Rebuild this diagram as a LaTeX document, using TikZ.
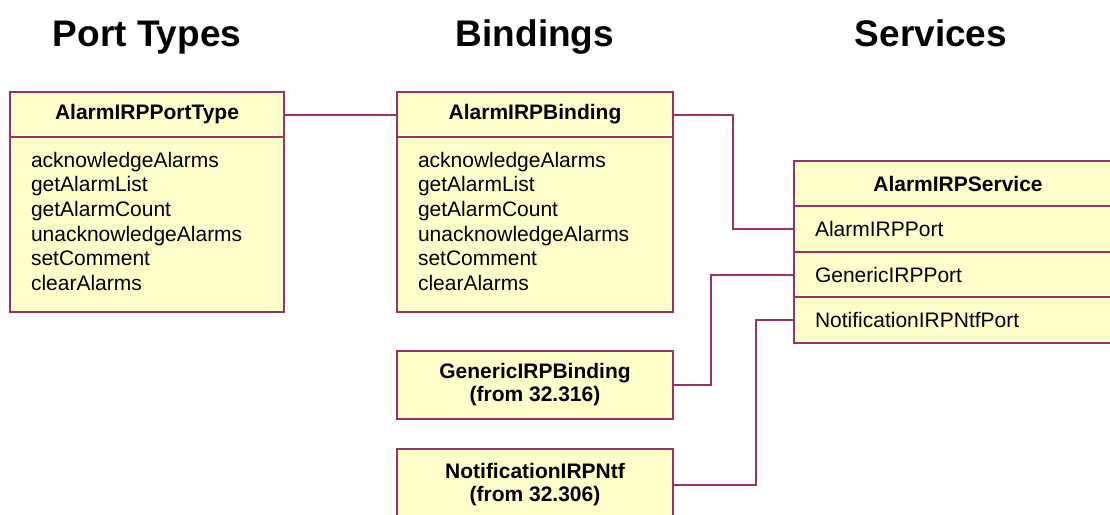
\documentclass[tikz,border=0pt]{standalone}
\usepackage{fontspec}
\setmainfont{Liberation Sans}
\usepackage{tikz}
\usetikzlibrary{positioning}
\definecolor{umlborder}{HTML}{993366}
\definecolor{umlfill}{HTML}{FFFFCC}
\tikzstyle{coltitle}=[anchor=base, font=\bfseries\fontsize{37}{40}\selectfont]
\tikzstyle{umlbox}=[rectangle, draw=umlborder, fill=umlfill, line width=2pt, outer sep=0pt, anchor=north west]
\tikzstyle{classhead}=[umlbox, minimum height=45pt, text centered, font=\bfseries\fontsize{21}{23}\selectfont]
\tikzstyle{classbody}=[umlbox, inner xsep=21pt, inner ysep=0pt, text height=30pt, text depth=145pt, align=left, font=\fontsize{21}{24.7}\selectfont]
\tikzstyle{portrow}=[umlbox, minimum height=45.7pt, inner xsep=21pt, align=left, font=\fontsize{21}{23}\selectfont]
\tikzstyle{refbox}=[umlbox, align=center, font=\bfseries\fontsize{21}{23}\selectfont]
\tikzstyle{link}=[draw=umlborder, line width=2pt]

\begin{document}
\begin{tikzpicture}[x=1pt, y=-1pt]
	\useasboundingbox (0,0) rectangle (1110,514);

	\node[coltitle] (ttypes) at (147,46) {Port Types};
	\node[coltitle] (tbind) at (535,46) {Bindings};
	\node[coltitle] (tserv) at (931,46) {Services};

	% port type
	\node[classhead, minimum width=274pt] (porttype) at (10,92) {AlarmIRPPortType};
	\node[classbody, text width=232pt] (porttypeops) at (porttype.south west)
		{acknowledgeAlarms\\getAlarmList\\getAlarmCount\\unacknowledgeAlarms\\setComment\\clearAlarms};

	% bindings
	\node[classhead, minimum width=276pt] (binding) at (397,92) {AlarmIRPBinding};
	\node[classbody, text width=234pt] (bindingops) at (binding.south west)
		{acknowledgeAlarms\\getAlarmList\\getAlarmCount\\unacknowledgeAlarms\\setComment\\clearAlarms};
	\node[refbox, minimum width=276pt, minimum height=68pt] (genbind) at (397,351)
		{GenericIRPBinding\\(from 32.316)};
	\node[refbox, minimum width=276pt, minimum height=72pt] (ntfbind) at (397,449)
		{NotificationIRPNtf\\(from 32.306)};

	% service
	\node[classhead, minimum width=328pt] (service) at (794,161) {AlarmIRPService};
	\node[portrow, text width=286pt] (alarmport) at (service.south west) {AlarmIRPPort};
	\node[portrow, text width=286pt] (genport) at (alarmport.south west) {GenericIRPPort};
	\node[portrow, text width=286pt] (ntfport) at (genport.south west) {NotificationIRPNtfPort};

	\path[link] (porttype.east) -- (binding.west);
	\path[link] (binding.east) -- ++(60,0) |- (alarmport.west);
	\path[link] (genbind.east) -- ++(38,0) |- (genport.west);
	\path[link] (ntfbind.east) -- ++(83,0) |- (ntfport.west);
\end{tikzpicture}
\end{document}
